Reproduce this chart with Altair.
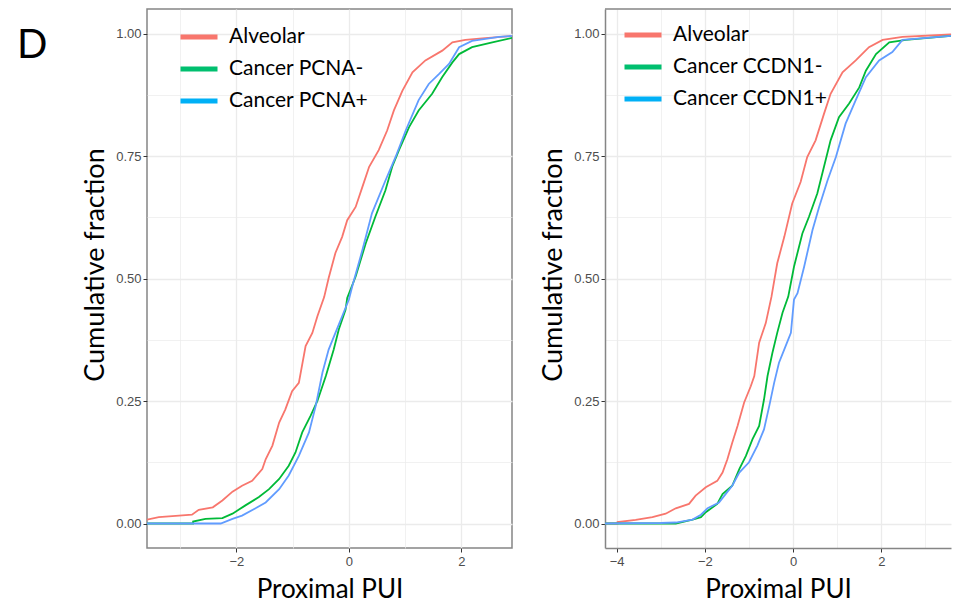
import altair as alt
import pandas as pd

# ---- series: cumulative fraction vs. Proximal PUI --------------------------
groups_pcna = ["Alveolar", "Cancer PCNA-", "Cancer PCNA+"]
groups_ccdn1 = ["Alveolar", "Cancer CCDN1-", "Cancer CCDN1+"]

line_colors = ["#F8766D", "#00BA38", "#619CFF"]
key_colors = ["#F8766D", "#00BF6F", "#00B0F6"]

# PCNA panel
pcna_alv_x = [-3.59, -3.38, -3.02, -2.79, -2.67, -2.42, -2.25, -2.07, -1.90, -1.72,
              -1.54, -1.48, -1.36, -1.24, -1.13, -1.01, -0.89, -0.77, -0.65, -0.56,
              -0.44, -0.36, -0.24, -0.12, -0.03, 0.12, 0.24, 0.36, 0.53, 0.68,
              0.80, 0.95, 1.13, 1.36, 1.66, 1.84, 2.07, 2.37, 2.90]
pcna_alv_y = [0.008, 0.013, 0.016, 0.018, 0.028, 0.033, 0.047, 0.065, 0.077, 0.087,
              0.111, 0.131, 0.159, 0.206, 0.233, 0.270, 0.287, 0.362, 0.389, 0.423,
              0.462, 0.501, 0.552, 0.585, 0.619, 0.646, 0.687, 0.728, 0.762, 0.802,
              0.843, 0.883, 0.921, 0.945, 0.965, 0.982, 0.987, 0.990, 0.995]

pcna_neg_x = [-3.59, -2.77, -2.77, -2.55, -2.25, -2.07, -1.84, -1.60, -1.42, -1.24,
              -1.07, -0.95, -0.83, -0.68, -0.56, -0.41, -0.27, -0.18, -0.06, -0.03,
              0.12, 0.30, 0.47, 0.65, 0.77, 0.89, 1.07, 1.24, 1.48, 1.66,
              1.84, 1.96, 2.19, 2.55, 2.90]
pcna_neg_y = [0.000, 0.000, 0.004, 0.0096, 0.011, 0.020, 0.037, 0.054, 0.070, 0.091,
              0.118, 0.145, 0.186, 0.220, 0.250, 0.301, 0.355, 0.396, 0.436, 0.460,
              0.504, 0.572, 0.626, 0.680, 0.728, 0.762, 0.809, 0.843, 0.877, 0.911,
              0.941, 0.958, 0.972, 0.982, 0.991]

pcna_pos_x = [-3.59, -2.28, -2.07, -1.90, -1.66, -1.48, -1.24, -1.07, -0.89, -0.71,
              -0.59, -0.47, -0.36, -0.24, -0.12, 0.00, 0.06, 0.24, 0.41, 0.65,
              0.83, 1.01, 1.24, 1.42, 1.60, 1.78, 1.96, 2.19, 2.67, 2.90]
pcna_pos_y = [0.000, 0.000, 0.0096, 0.016, 0.031, 0.043, 0.070, 0.098, 0.138, 0.186,
              0.240, 0.308, 0.355, 0.389, 0.423, 0.457, 0.484, 0.558, 0.633, 0.700,
              0.748, 0.802, 0.864, 0.897, 0.917, 0.938, 0.972, 0.985, 0.993, 0.995]

# CCDN1 panel
ccdn1_alv_x = [-4.265, -3.98, -3.98, -3.57, -3.19, -2.89, -2.66, -2.36, -2.21, -1.98,
               -1.72, -1.60, -1.49, -1.38, -1.26, -1.11, -0.96, -0.88, -0.77, -0.62,
               -0.49, -0.36, -0.20, -0.02, 0.17, 0.32, 0.51, 0.70, 0.85, 1.12,
               1.42, 1.72, 2.03, 2.48, 3.58]
ccdn1_alv_y = [0.000, 0.000, 0.003, 0.0075, 0.013, 0.020, 0.031, 0.040, 0.057, 0.074,
               0.087, 0.104, 0.131, 0.165, 0.199, 0.247, 0.280, 0.301, 0.369, 0.409,
               0.463, 0.531, 0.585, 0.653, 0.697, 0.748, 0.782, 0.836, 0.877, 0.921,
               0.945, 0.972, 0.987, 0.993, 0.998]

ccdn1_neg_x = [-4.265, -2.66, -2.28, -2.09, -1.98, -1.72, -1.60, -1.38, -1.22, -1.07,
               -0.92, -0.77, -0.66, -0.58, -0.47, -0.36, -0.24, -0.11, 0.02, 0.21,
               0.36, 0.55, 0.70, 0.85, 1.04, 1.27, 1.50, 1.65, 1.88, 2.18,
               2.56, 3.58]
ccdn1_neg_y = [0.000, 0.000, 0.008, 0.013, 0.023, 0.040, 0.060, 0.077, 0.111, 0.138,
               0.172, 0.199, 0.253, 0.301, 0.348, 0.389, 0.430, 0.463, 0.524, 0.592,
               0.626, 0.674, 0.728, 0.782, 0.829, 0.857, 0.890, 0.924, 0.958, 0.982,
               0.987, 0.995]

ccdn1_pos_x = [-4.265, -3.00, -2.66, -2.28, -2.09, -1.94, -1.68, -1.38, -1.22, -1.00,
               -0.81, -0.66, -0.54, -0.43, -0.32, -0.17, -0.05, 0.02, 0.10, 0.25,
               0.44, 0.59, 0.78, 0.97, 1.19, 1.42, 1.65, 1.95, 2.25, 2.48,
               3.58]
ccdn1_pos_y = [0.000, 0.001, 0.002, 0.008, 0.018, 0.031, 0.043, 0.077, 0.104, 0.125,
               0.159, 0.192, 0.240, 0.287, 0.328, 0.362, 0.389, 0.457, 0.470, 0.524,
               0.599, 0.646, 0.700, 0.748, 0.816, 0.864, 0.911, 0.945, 0.962, 0.987,
               0.995]

x_ticks_pcna = [-3, -2, -1, 0, 1, 2]
x_ticks_ccdn1 = [-4, -3, -2, -1, 0, 1, 2, 3]
y_ticks = [0, 0.125, 0.25, 0.375, 0.5, 0.625, 0.75, 0.875, 1.0]

BORDER = "#858585"
GRID = "#EBEBEB"
TEXT_FONT = "Lato"
PANEL_H = 539


def long_frame(groups, series):
    rows = []
    for g, (xs, ys) in zip(groups, series):
        for i, (xv, yv) in enumerate(zip(xs, ys)):
            rows.append({"group": g, "x": xv, "y": yv, "i": i})
    return pd.DataFrame(rows)


def panel(df, groups, x_domain, x_ticks, width, legend_x, legend_y, boxed, title=None):
    x_axis = alt.Axis(
        values=x_ticks,
        labelExpr="datum.value % 2 == 0 ? format(datum.value, 'd') : ''",
        labelOverlap=False,
        labelFont="Liberation Sans", labelFontSize=13, labelColor="#4D4D4D",
        labelPadding=3,
        tickSize=4, tickColor="#333333",
        tickOpacity={"condition": {"test": "datum.value % 2 != 0", "value": 0}, "value": 1},
        grid=True, gridColor=GRID,
        gridWidth={"condition": {"test": "datum.value % 2 != 0", "value": 0.7}, "value": 1.3},
        domain=not boxed, domainColor=BORDER, domainWidth=1.5,
        title="Proximal PUI", titleFont=TEXT_FONT, titleFontSize=26,
        titleFontWeight="normal", titleColor="black", titlePadding=8,
    )
    y_axis = alt.Axis(
        values=y_ticks,
        labelExpr="datum.value % 0.25 == 0 ? format(datum.value, '.2f') : ''",
        labelOverlap=False,
        labelFont="Liberation Sans", labelFontSize=13, labelColor="#4D4D4D",
        labelPadding=2,
        tickSize=4, tickColor="#333333",
        tickOpacity={"condition": {"test": "datum.value % 0.25 != 0", "value": 0}, "value": 1},
        grid=True, gridColor=GRID,
        gridWidth={"condition": {"test": "datum.value % 0.25 != 0", "value": 0.7}, "value": 1.3},
        domain=not boxed, domainColor=BORDER, domainWidth=1.5,
        title="Cumulative fraction", titleFont=TEXT_FONT, titleFontSize=27,
        titleFontWeight="normal", titleColor="black", titlePadding=6,
        titleY=PANEL_H / 2 - 14,
    )
    x_enc = alt.X("x:Q", scale=alt.Scale(domain=x_domain, nice=False, zero=False), axis=x_axis)
    y_enc = alt.Y("y:Q", scale=alt.Scale(domain=[-0.05, 1.05], nice=False, zero=False), axis=y_axis)

    lines = alt.Chart(df).mark_line(strokeWidth=1.8, clip=True).encode(
        x=x_enc, y=y_enc,
        color=alt.Color("group:N", scale=alt.Scale(domain=groups, range=line_colors), legend=None),
        order="i:Q",
    )
    # legend keys are drawn from their own colour scale
    key = alt.Chart(df).transform_filter("false").mark_line().encode(
        x=x_enc, y=y_enc,
        color=alt.Color(
            "group:N",
            scale=alt.Scale(domain=groups, range=key_colors),
            legend=alt.Legend(
                title=None, orient="none", legendX=legend_x, legendY=legend_y,
                symbolType="stroke", symbolStrokeWidth=5, symbolSize=1369,
                labelFont=TEXT_FONT, labelFontSize=21, labelColor="black",
                labelOffset=9, rowPadding=1, padding=0,
            ),
        ),
    )
    layers = [lines, key]
    if not boxed:
        top_edge = alt.Chart(pd.DataFrame({"edge": [0]})).mark_rule(
            color=BORDER, strokeWidth=1.5
        ).encode(x=alt.value(0), x2=alt.value(width), y=alt.value(0))
        layers.append(top_edge)

    props = dict(width=width, height=PANEL_H)
    if boxed:
        props["view"] = alt.ViewBackground(stroke=BORDER, strokeWidth=1.5)
    else:
        props["view"] = alt.ViewBackground(strokeOpacity=0)
    if title is not None:
        props["title"] = title
    return alt.layer(*layers).resolve_scale(color="independent").properties(**props)


df_pcna = long_frame(groups_pcna, [(pcna_alv_x, pcna_alv_y),
                                   (pcna_neg_x, pcna_neg_y),
                                   (pcna_pos_x, pcna_pos_y)])
df_ccdn1 = long_frame(groups_ccdn1, [(ccdn1_alv_x, ccdn1_alv_y),
                                     (ccdn1_neg_x, ccdn1_neg_y),
                                     (ccdn1_pos_x, ccdn1_pos_y)])

panel_label = alt.TitleParams(
    "D", anchor="start", frame="group", orient="top", dx=-130, dy=93,
    font=TEXT_FONT, fontSize=40, fontWeight="normal", color="black",
    baseline="alphabetic",
)

left = panel(df_pcna, groups_pcna, [-3.59, 2.90], x_ticks_pcna, 365, 31, 7, True, panel_label)
right = panel(df_ccdn1, groups_ccdn1, [-4.265, 3.58], x_ticks_ccdn1, 346, 17, 5, False)

chart = alt.hconcat(left, right, spacing=93, bounds="flush").properties(
    padding={"left": 16, "top": 8, "right": 0, "bottom": 0},
    background="white",
)

chart.save("out.html", embed_options={"renderer": "svg", "actions": False})
